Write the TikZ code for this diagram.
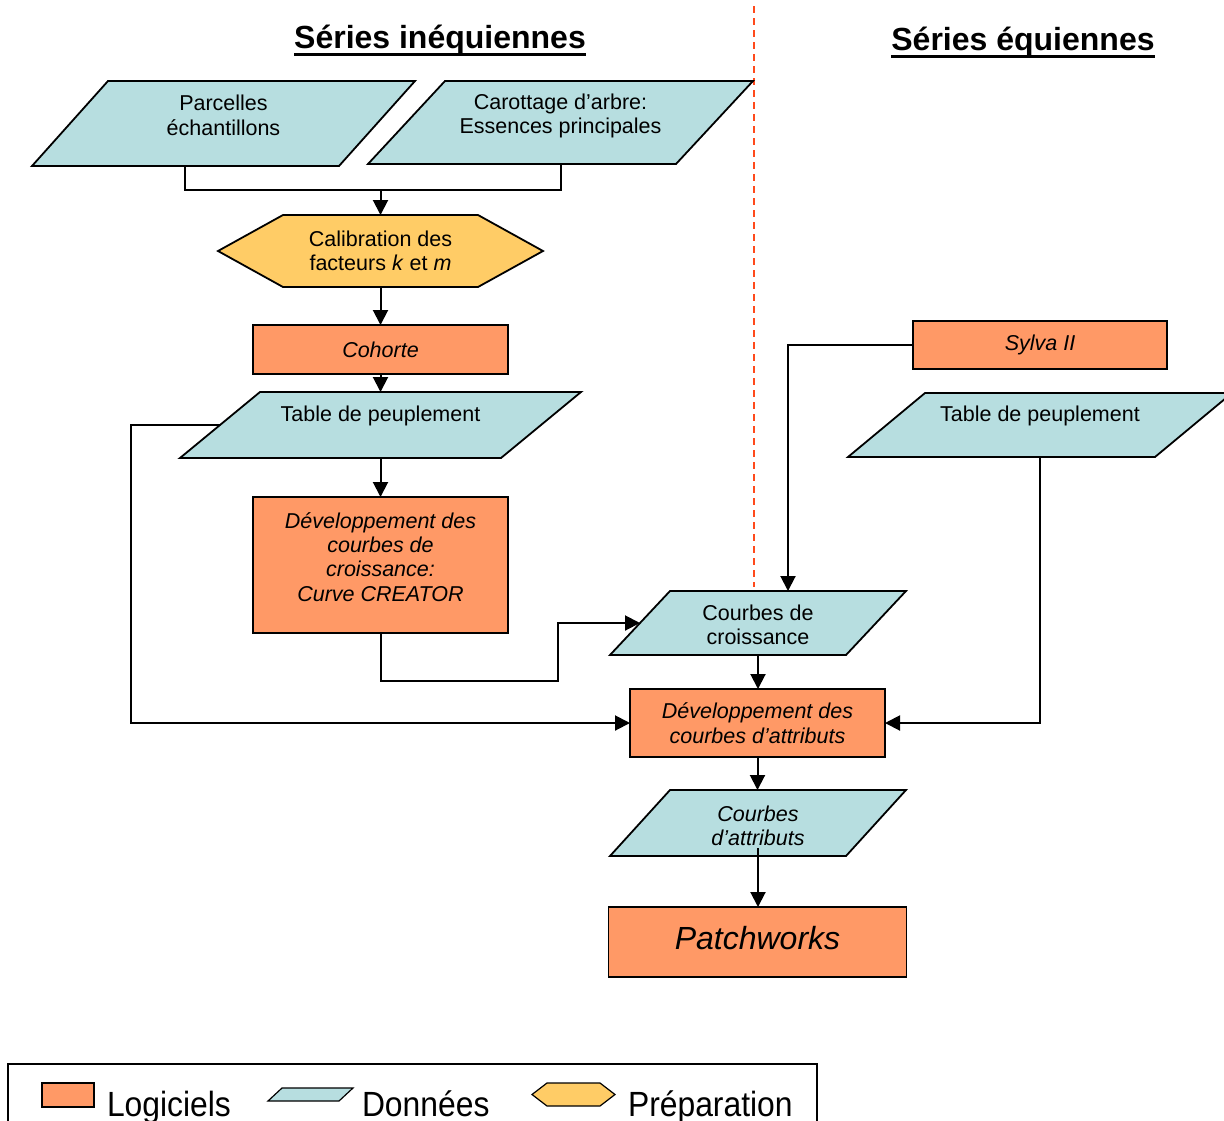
\documentclass[tikz,border=0pt]{standalone}
\usepackage{fontspec}
\setmainfont{Liberation Sans}
\usepackage{graphicx}
\usetikzlibrary{arrows.meta,backgrounds,calc}
\definecolor{blu}{HTML}{B7DEE0}
\definecolor{org}{HTML}{FF9966}
\definecolor{yel}{HTML}{FFCC66}
\definecolor{redd}{HTML}{FF4A1C}
\newcommand\paral[3][1.8pt]{%
  \filldraw[fill=blu, draw=black, line width=#1, line join=miter]
    (#2.south west) -- ([xshift=-#3pt]#2.south east) -- (#2.north east)
    -- ([xshift=#3pt]#2.north west) -- cycle;}
\newcommand\hexa[3][1.8pt]{%
  \begin{pgfonlayer}{background}
  \filldraw[fill=yel, draw=black, line width=#1]
    (#2.west) -- ([xshift=#3pt]#2.north west) -- ([xshift=-#3pt]#2.north east)
    -- (#2.east) -- ([xshift=-#3pt]#2.south east) -- ([xshift=#3pt]#2.south west) -- cycle;
  \end{pgfonlayer}}
\begin{document}
\begin{tikzpicture}[x=1pt,y=-1pt,
  every node/.style={inner sep=0pt, outer sep=0pt},
  txt/.style={font=\fontsize{21.5}{24.5}\selectfont, align=center},
  shp/.style={draw=none},
  soft/.style={draw=black, line width=1.8pt, fill=org, font=\fontsize{21.5}{24.5}\selectfont\itshape, align=center},
  hex/.style={font=\fontsize{21.5}{24.5}\selectfont, align=center},
  conn/.style={line width=2pt},
  arr/.style={line width=2pt, -{Triangle[length=15pt,width=15pt]}},
  ttl/.style={font=\fontsize{32}{36}\selectfont\bfseries, anchor=base},
  legtxt/.style={font=\fontsize{35}{40}\selectfont, anchor=base west}]
\useasboundingbox (0,0) rectangle (1224,1120);

% titles
\node[ttl] (ti1) at (440,48) {Séries inéquiennes};
\draw[line width=3pt] ([yshift=-6pt]ti1.base west) -- ([yshift=-6pt]ti1.base east);
\node[ttl] (ti2) at (1023,50) {Séries équiennes};
\draw[line width=3pt] ([yshift=-6pt]ti2.base west) -- ([yshift=-6pt]ti2.base east);

% separator
\draw[redd, line width=1.6pt, dash pattern=on 7pt off 5pt] (754,6) -- (754,587);

% data shapes
\node[shp, minimum width=383pt, minimum height=85pt] (parc) at (223.5,123.5) {};
\paral{parc}{76}
\node[txt] (parc-t) at ([yshift=8pt]parc.center) {Parcelles\\échantillons};

\node[shp, minimum width=385pt, minimum height=83pt] (carot) at (560.5,122.5) {};
\paral{carot}{77}
\node[txt] (carot-t) at ([yshift=6.5pt]carot.center) {Carottage d’arbre:\\Essences principales};

\node[shp, minimum width=401pt, minimum height=66pt] (table1) at (380.5,425) {};
\paral{table1}{80}
\node[txt] (table1-t) at ([yshift=9pt]table1.center) {Table de peuplement};

\node[shp, minimum width=384pt, minimum height=64pt] (table2) at (1040,425) {};
\paral{table2}{77}
\node[txt] (table2-t) at ([yshift=9pt]table2.center) {Table de peuplement};

\node[shp, minimum width=296pt, minimum height=64pt] (ccroiss) at (758,623) {};
\paral{ccroiss}{60}
\node[txt] (ccroiss-t) at ([yshift=-2pt]ccroiss.center) {Courbes de\\croissance};

\node[shp, minimum width=296pt, minimum height=66pt] (cattr) at (758,823) {};
\paral{cattr}{60}
\node[txt, font=\fontsize{21.5}{24.5}\selectfont\itshape] (cattr-t) at ([yshift=-3pt]cattr.center) {Courbes\\d’attributs};

% preparation
\node[hex, minimum width=325pt, minimum height=72pt] (calib) at (380.5,251) {Calibration des\\facteurs \textit{k} et \textit{m}};
\hexa{calib}{65}

% software
\node[soft, minimum width=255pt, minimum height=49pt] (cohorte) at (380.5,349.5) {Cohorte};
\node[soft, minimum width=255pt, minimum height=136pt] (devc) at (380.5,565) {};
\node[txt, font=\fontsize{21.5}{24.2}\selectfont\itshape] (devc-t) at ([yshift=8pt]devc.center) {Développement des\\courbes de\\croissance:\\Curve CREATOR};
\node[soft, minimum width=254pt, minimum height=48pt] (sylva) at (1040,345) {Sylva II};
\node[soft, minimum width=255pt, minimum height=68pt] (deva) at (757.5,723) {Développement des\\courbes d’attributs};
\node[soft, minimum width=298pt, minimum height=70pt] (patch) at (757.5,942) {};
\node[txt, font=\fontsize{32}{36}\selectfont\itshape] (patch-t) at ([yshift=4pt]patch.center) {Patchworks};

% connectors
\coordinate (j1) at (380.5,190);
\draw[conn] ([xshift=-38.5pt]parc.south) |- (j1);
\draw[conn] (carot.south) |- (j1);
\draw[arr] (j1) -- (calib.north);
\draw[arr] (calib.south) -- (cohorte.north);
\draw[arr] (cohorte.south) -- (table1.north);
\draw[arr] (table1.south) -- (devc.north);
\coordinate (cA) at (131,723);
\draw[arr] ([xshift=40pt]table1.west) -| (cA) -- (deva.west);
\coordinate (k1) at (558,681);
\draw[arr] (devc.south) |- (k1) |- ([xshift=30pt]ccroiss.west);
\draw[arr] (sylva.west) -| ([xshift=30pt]ccroiss.north);
\draw[arr] (table2.south) |- (deva.east);
\draw[arr] (ccroiss.south) -- (ccroiss.south |- deva.north);
\draw[arr] (deva.south) -- (deva.south |- cattr.north);
\draw[arr] ([yshift=8pt]cattr.south) -- (cattr.south |- patch.north);

% legend
\draw[line width=1.2pt] (8,1064) rectangle (817,1150);
\node[draw=black, line width=1.2pt, fill=org, minimum width=52pt, minimum height=24pt] (lg1) at (68,1095) {};
\node[legtxt] (lg1-t) at (107,1116) {\scalebox{0.91}[1]{Logiciels}};
\node[shp, minimum width=85pt, minimum height=13pt] (lg2) at (310.5,1094.5) {};
\paral[1.2pt]{lg2}{14}
\node[legtxt] (lg2-t) at (362,1116) {\scalebox{0.91}[1]{Données}};
\node[shp, minimum width=83pt, minimum height=23pt] (lg3) at (573.5,1094.5) {};
\hexa[1.2pt]{lg3}{15}
\node[legtxt] (lg3-t) at (628,1116) {\scalebox{0.91}[1]{Préparation}};
\end{tikzpicture}
\end{document}
